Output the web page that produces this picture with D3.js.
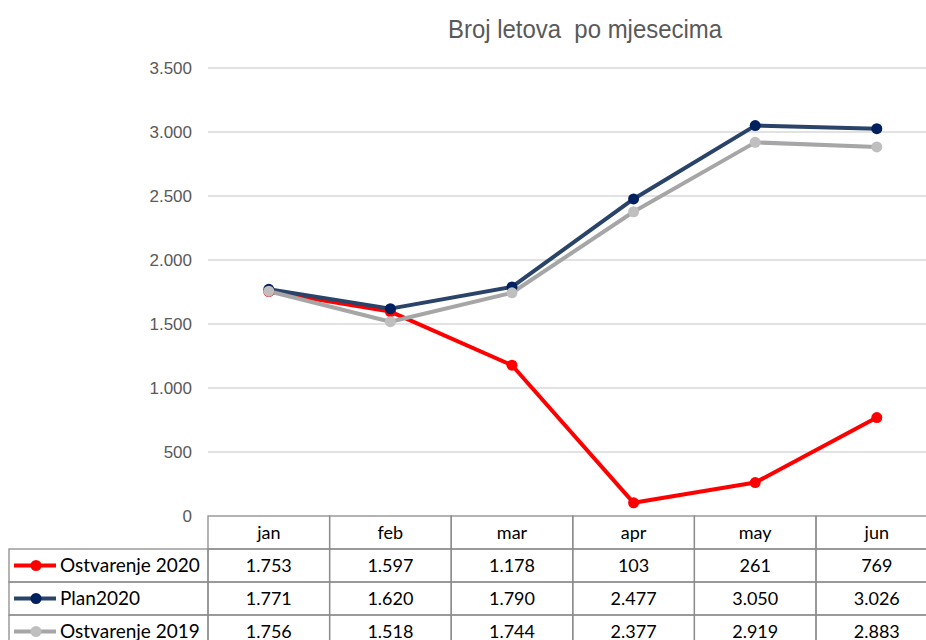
<!DOCTYPE html>
<html>
<head>
<meta charset="utf-8">
<script src="https://cdn.jsdelivr.net/npm/d3@7"></script>
<style>
  body { margin: 0; background: #fff; }
  svg { display: block; }
</style>
</head>
<body>
<svg id="chart" width="926" height="640"></svg>
<script>
// chart data
const months = ['jan', 'feb', 'mar', 'apr', 'may', 'jun'];
const ostvarenje2020 = [1753, 1597, 1178, 103, 261, 769];
const plan2020 = [1771, 1620, 1790, 2477, 3050, 3026];
const ostvarenje2019 = [1756, 1518, 1744, 2377, 2919, 2883];
const seriesNames = ['Ostvarenje 2020', 'Plan2020', 'Ostvarenje 2019'];
const yTicks = [0, 500, 1000, 1500, 2000, 2500, 3000, 3500];

const series = [
  {name: seriesNames[0], values: ostvarenje2020, line: '#FF0000', dot: '#FF0000'},
  {name: seriesNames[1], values: plan2020, line: '#2a4368', dot: '#002060'},
  {name: seriesNames[2], values: ostvarenje2019, line: '#a6a6a6', dot: '#bfbfbf'}
];

const margin = {top: 68, left: 208};
const plotW = 729.6, plotH = 448;
const rowH = 33;
const legendLeft = 9;

const fmt = d3.formatLocale({decimal: ',', thousands: '.', grouping: [3], currency: ['', '']}).format(',');

const svg = d3.select('#chart');
const g = svg.append('g').attr('transform', `translate(${margin.left},${margin.top})`);

const x = d3.scaleBand().domain(months).range([0, plotW]);
const y = d3.scaleLinear().domain([0, 3500]).range([plotH, 0]);

// title
svg.append('text')
  .attr('x', 585).attr('y', 38)
  .attr('text-anchor', 'middle')
  .attr('textLength', 274)
  .attr('lengthAdjust', 'spacingAndGlyphs')
  .style('font', '26px "Liberation Sans Narrow", "Liberation Sans", Arial, sans-serif')
  .style('white-space', 'pre')
  .attr('fill', '#595959')
  .text('Broj letova  po mjesecima');

// gridlines
g.selectAll('.grid')
  .data(yTicks.filter(d => d > 0))
  .join('line')
  .attr('x1', 0).attr('x2', plotW)
  .attr('y1', d => y(d)).attr('y2', d => y(d))
  .attr('stroke', '#d9d9d9').attr('stroke-width', 1.3);

// y axis labels
const yAxis = g.append('g').call(d3.axisLeft(y).tickValues(yTicks).tickFormat(fmt).tickSize(0).tickPadding(16));
yAxis.select('.domain').remove();
yAxis.selectAll('text')
  .style('font', '17px "Liberation Sans Narrow", "Liberation Sans", Arial, sans-serif')
  .attr('fill', '#595959');

// lines
const line = d3.line()
  .x((d, i) => x(months[i]) + x.bandwidth() / 2)
  .y(d => y(d));

series.forEach(s => {
  g.append('path')
    .datum(s.values)
    .attr('d', line)
    .attr('fill', 'none')
    .attr('stroke', s.line)
    .attr('stroke-width', 4)
    .attr('stroke-linejoin', 'round');
});
series.forEach(s => {
  g.selectAll(null)
    .data(s.values)
    .join('circle')
    .attr('cx', (d, i) => x(months[i]) + x.bandwidth() / 2)
    .attr('cy', d => y(d))
    .attr('r', 5.5)
    .attr('fill', s.dot);
});

// data table
const tableFont = '18px Lato, "Open Sans", sans-serif';
const tg = svg.append('g').attr('transform', `translate(0,${margin.top + plotH})`);
const border = '#8c8c8c';

// header row cells
months.forEach(m => {
  tg.append('rect')
    .attr('x', margin.left + x(m)).attr('y', 0)
    .attr('width', x.bandwidth()).attr('height', rowH)
    .attr('fill', 'none').attr('stroke', border).attr('stroke-width', 1.3);
  tg.append('text')
    .attr('x', margin.left + x(m) + x.bandwidth() / 2).attr('y', rowH / 2 + 6)
    .attr('text-anchor', 'middle')
    .style('font', tableFont).attr('fill', '#000')
    .text(m);
});

series.forEach((s, r) => {
  const ry = rowH * (r + 1);
  // legend cell
  tg.append('rect')
    .attr('x', legendLeft).attr('y', ry)
    .attr('width', margin.left - legendLeft).attr('height', rowH)
    .attr('fill', 'none').attr('stroke', border).attr('stroke-width', 1.3);
  tg.append('line')
    .attr('x1', 14).attr('x2', 56)
    .attr('y1', ry + rowH / 2).attr('y2', ry + rowH / 2)
    .attr('stroke', s.line).attr('stroke-width', 4);
  tg.append('circle')
    .attr('cx', 36).attr('cy', ry + rowH / 2).attr('r', 5.5)
    .attr('fill', s.dot);
  tg.append('text')
    .attr('x', 60).attr('y', ry + rowH / 2 + 6)
    .style('font', '19px Lato, "Open Sans", sans-serif').attr('fill', '#000')
    .text(s.name);
  // value cells
  s.values.forEach((v, i) => {
    tg.append('rect')
      .attr('x', margin.left + x(months[i])).attr('y', ry)
      .attr('width', x.bandwidth()).attr('height', rowH)
      .attr('fill', 'none').attr('stroke', border).attr('stroke-width', 1.3);
    tg.append('text')
      .attr('x', margin.left + x(months[i]) + x.bandwidth() / 2).attr('y', ry + rowH / 2 + 6)
      .attr('text-anchor', 'middle')
      .style('font', tableFont).attr('fill', '#000')
      .text(fmt(v));
  });
});
</script>
</body>
</html>
